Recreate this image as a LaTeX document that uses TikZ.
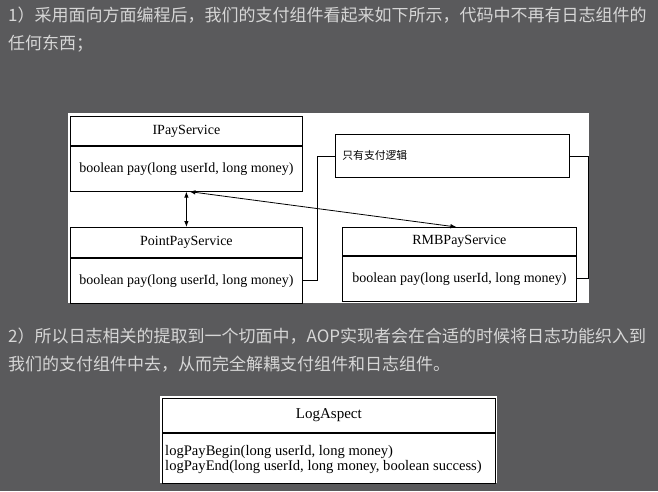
\documentclass[tikz,border=0pt]{standalone}
\usepackage{fontspec}
\setmainfont{Liberation Serif}
\newfontfamily\cjk{Noto Sans CJK SC}
\usetikzlibrary{arrows.meta}
\definecolor{pagegray}{RGB}{90,90,92}
\definecolor{textgray}{RGB}{214,214,214}
\tikzset{
	para/.style={anchor=west, inner sep=0pt, text=textgray, font=\cjk\fontsize{17}{17}\selectfont},
	clshead/.style={draw, line width=0.8pt, inner sep=0pt, minimum width=232pt, minimum height=29pt, anchor=north west, font=\fontsize{14}{15}\selectfont},
	clsbody/.style={draw, line width=0.8pt, inner sep=0pt, minimum width=232pt, minimum height=45pt, anchor=north, font=\fontsize{14}{15}\selectfont},
	wire/.style={line width=0.8pt},
	link/.style={line width=0.8pt, {Latex[length=6pt,width=4.5pt]}-{Latex[length=6pt,width=4.5pt]}},
}

\begin{document}
\begin{tikzpicture}[x=1pt, y=-1pt]
		%%%%% START %%%%%
		\fill[pagegray] (0, 0) rectangle (658, 491);
		\useasboundingbox (0, 0) rectangle (658, 491);
		
		\node[para] (introa) at (8, 15) {1）采用面向方面编程后，我们的支付组件看起来如下所示，代码中不再有日志组件的};
		\node[para] (introb) at (8, 44) {任何东西；};
		
		\fill[white] (68, 113) rectangle (589, 303);
		
		\node[clshead] (ipay) at (70, 116) {IPayService};
		\node[clsbody] (ipaybody) at (ipay.south) {boolean pay(long userId, long money)};
		
		\node[clshead, minimum height=30pt] (point) at (70, 227) {PointPayService};
		\node[clsbody] (pointbody) at (point.south) {boolean pay(long userId, long money)};
		
		\node[clshead, minimum width=234pt, minimum height=28pt] (rmb) at (342, 227) {RMBPayService};
		\node[clsbody, minimum width=234pt] (rmbbody) at (rmb.south) {boolean pay(long userId, long money)};
		
		\node[draw, line width=0.8pt, anchor=north west, inner xsep=7pt, inner ysep=0pt, text width=220pt, minimum height=43pt, align=left, font=\cjk\fontsize{10.8}{12}\selectfont] (logic) at (335, 134) {只有支付逻辑};
		
		\draw[link] (ipaybody.south) -- (point.north);
		\draw[link] ([xshift=3pt]ipaybody.south) -- ([xshift=-3pt]rmb.north);
		\draw[wire] (pointbody.east) -- ++(15, 0) |- (logic.west);
		\draw[wire] (logic.east) -- ++(19, 0) |- (rmbbody.east);
		
		\node[para] (weavea) at (8, 336) {2）所以日志相关的提取到一个切面中，AOP实现者会在合适的时候将日志功能织入到};
		\node[para] (weaveb) at (8, 364) {我们的支付组件中去，从而完全解耦支付组件和日志组件。};
		
		\fill[white] (160, 396) rectangle (497, 483);
		
		\node[clshead, minimum width=333pt, minimum height=34pt, font=\fontsize{15}{15}\selectfont] (logaspect) at (162, 398) {LogAspect};
		\node[clsbody, minimum width=333pt, minimum height=50pt] (logbody) at (logaspect.south) {};
		\node[anchor=west, inner sep=0pt, align=left, font=\fontsize{14.6}{15}\selectfont] (logops) at ([xshift=3pt, yshift=-1pt]logbody.west) {logPayBegin(long userId, long money)\\logPayEnd(long userId, long money, boolean success)};
		%%%%% END %%%%%
	\end{tikzpicture}
\end{document}
